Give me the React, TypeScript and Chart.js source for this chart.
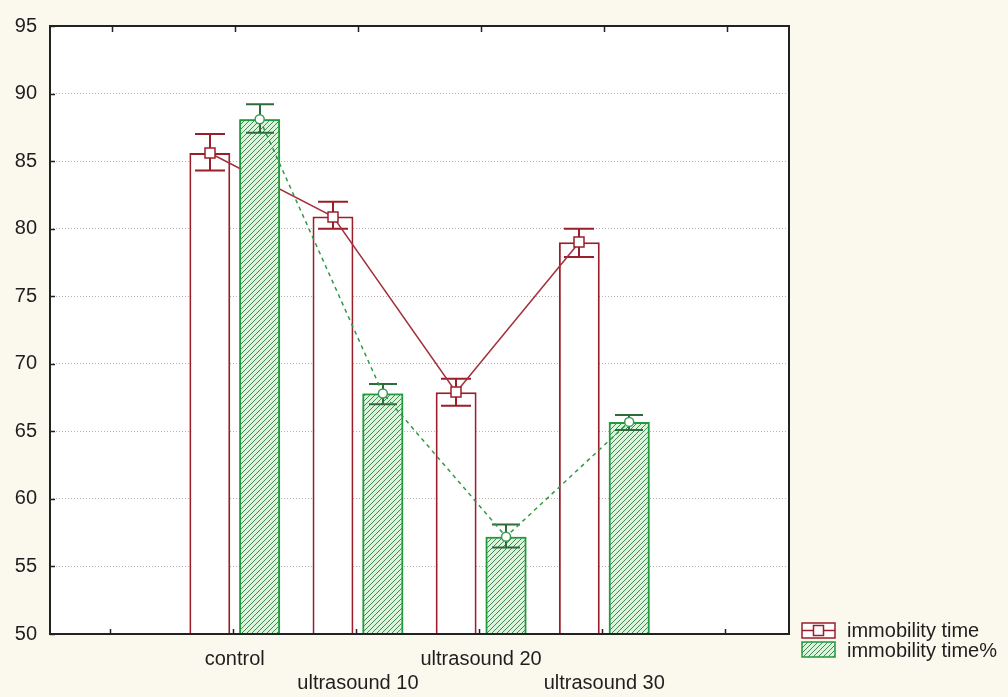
import React, { useEffect, useRef } from 'react';
import { Chart, registerables } from 'chart.js';

Chart.register(...registerables);

// ---- data ----
const categories: (string | string[])[] = ['', 'control', ['', 'ultrasound 10'], 'ultrasound 20', ['', 'ultrasound 30'], ''];
const seriesNames = ['immobility time', 'immobility time%'];
const timeValues: (number | null)[] = [null, 85.6, 80.9, 67.9, 79.0, null];
const timeLow: (number | null)[] = [null, 84.3, 80.0, 66.9, 77.9, null];
const timeHigh: (number | null)[] = [null, 87.0, 82.0, 68.9, 80.0, null];
const pctValues: (number | null)[] = [null, 88.1, 67.8, 57.2, 65.7, null];
const pctLow: (number | null)[] = [null, 87.1, 67.0, 56.4, 65.1, null];
const pctHigh: (number | null)[] = [null, 89.2, 68.5, 58.1, 66.2, null];
const yMin = 50;
const yMax = 95;
const yStep = 5;

// ---- styles ----
const CAT_PCT = 0.81;
const BAR_PCT = 0.82;
const RED = '#9a1f2b';
const RED_LINE = '#a3303c';
const GREEN = '#1f9a3c';
const GREEN_DARK = '#2d6b3c';
const GREEN_LINE = '#2f9a45';
const TEXT = '#1e1e1e';
const FONT = '"Liberation Sans", Arial, sans-serif';
const FRAME = '#222222';

function makeHatch(): CanvasPattern | string {
  const c = document.createElement('canvas');
  const s = 5;
  c.width = s;
  c.height = s;
  const g = c.getContext('2d');
  if (!g) return '#cfeccf';
  g.fillStyle = '#ddf3dd';
  g.fillRect(0, 0, s, s);
  g.strokeStyle = '#3d8c4e';
  g.lineWidth = 1;
  g.beginPath();
  g.moveTo(0, s);
  g.lineTo(s, 0);
  g.moveTo(-1, 1);
  g.lineTo(1, -1);
  g.moveTo(s - 1, s + 1);
  g.lineTo(s + 1, s - 1);
  g.stroke();
  return g.createPattern(c, 'repeat') || '#cfeccf';
}

function seriesPoints(chart: any, dsIndex: number, values: (number | null)[]) {
  const meta = chart.getDatasetMeta(dsIndex);
  const y = chart.scales.y;
  const pts: { x: number; y: number }[] = [];
  meta.data.forEach((el: any, j: number) => {
    const v = values[j];
    if (v != null) pts.push({ x: el.x, y: y.getPixelForValue(v) });
  });
  return pts;
}

function drawErrorBars(chart: any, dsIndex: number, lows: (number | null)[], highs: (number | null)[], color: string, cap: number) {
  const { ctx, scales } = chart;
  const y = scales.y;
  const meta = chart.getDatasetMeta(dsIndex);
  ctx.save();
  ctx.strokeStyle = color;
  ctx.lineWidth = 2;
  meta.data.forEach((el: any, j: number) => {
    const lo = lows[j];
    const hi = highs[j];
    if (lo == null || hi == null) return;
    const x = Math.round(el.x);
    const yl = y.getPixelForValue(lo);
    const yh = y.getPixelForValue(hi);
    ctx.beginPath();
    ctx.moveTo(x, yl);
    ctx.lineTo(x, yh);
    ctx.moveTo(x - cap / 2, yl);
    ctx.lineTo(x + cap / 2, yl);
    ctx.moveTo(x - cap / 2, yh);
    ctx.lineTo(x + cap / 2, yh);
    ctx.stroke();
  });
  ctx.restore();
}

function drawMeanLine(chart: any, dsIndex: number, values: (number | null)[], color: string, dash: number[], marker: 'rect' | 'circle', markerColor: string) {
  const { ctx } = chart;
  const pts = seriesPoints(chart, dsIndex, values);
  ctx.save();
  ctx.strokeStyle = color;
  ctx.lineWidth = 1.5;
  ctx.setLineDash(dash);
  ctx.beginPath();
  pts.forEach((p, i) => (i === 0 ? ctx.moveTo(p.x, p.y) : ctx.lineTo(p.x, p.y)));
  ctx.stroke();
  ctx.setLineDash([]);
  ctx.fillStyle = '#ffffff';
  ctx.strokeStyle = markerColor;
  pts.forEach((p) => {
    ctx.beginPath();
    if (marker === 'rect') {
      ctx.rect(Math.round(p.x) - 5, Math.round(p.y) - 5, 10, 10);
    } else {
      ctx.arc(p.x, p.y, 4.5, 0, Math.PI * 2);
    }
    ctx.fill();
    ctx.stroke();
  });
  ctx.restore();
}

const framePlugin = {
  id: 'statFrame',
  beforeDraw(chart: any) {
    const { ctx, chartArea: a } = chart;
    ctx.save();
    ctx.fillStyle = '#ffffff';
    ctx.fillRect(a.left, a.top, a.right - a.left, a.bottom - a.top);
    ctx.restore();
  },
  afterDatasetsDraw(chart: any) {
    const { ctx, chartArea: a, scales } = chart;
    // red series: error bars, mean line, markers
    drawErrorBars(chart, 0, timeLow, timeHigh, RED, 30);
    drawMeanLine(chart, 0, timeValues, RED_LINE, [], 'rect', RED);
    // green bars again, on top of the red line (clipped to the plot area)
    ctx.save();
    ctx.beginPath();
    ctx.rect(a.left, a.top, a.right - a.left, a.bottom - a.top);
    ctx.clip();
    chart.getDatasetMeta(1).data.forEach((el: any) => el.draw(ctx, a));
    ctx.restore();
    drawErrorBars(chart, 1, pctLow, pctHigh, GREEN_DARK, 28);
    drawMeanLine(chart, 1, pctValues, GREEN_LINE, [4, 4], 'circle', '#3a9a50');

    // frame and inward ticks
    ctx.save();
    ctx.strokeStyle = FRAME;
    ctx.lineWidth = 2;
    ctx.strokeRect(a.left, a.top, a.right - a.left, a.bottom - a.top);
    ctx.lineWidth = 1.5;
    ctx.beginPath();
    categories.forEach((_, i) => {
      const x = Math.round(scales.x.getPixelForTick(i)) + 0.5;
      ctx.moveTo(x, a.top);
      ctx.lineTo(x, a.top + 6);
      ctx.moveTo(x - 2, a.bottom);
      ctx.lineTo(x - 2, a.bottom - 5);
    });
    for (let v = yMin; v <= yMax; v += yStep) {
      const yy = Math.round(scales.y.getPixelForValue(v)) + 0.5;
      ctx.moveTo(a.left, yy);
      ctx.lineTo(a.left + 5, yy);
    }
    ctx.stroke();
    ctx.restore();
  },
  afterDraw(chart: any, _args: any, opts: any) {
    const { ctx, chartArea: a } = chart;
    const pattern = opts.pattern;
    const ix = a.right + 13;
    const iw = 33;
    const ih = 15;
    ctx.save();
    // red item
    const ry = a.bottom - 11;
    ctx.strokeStyle = RED;
    ctx.lineWidth = 1.5;
    ctx.fillStyle = '#ffffff';
    ctx.fillRect(ix, ry, iw, ih);
    ctx.strokeRect(ix, ry, iw, ih);
    ctx.beginPath();
    ctx.moveTo(ix, ry + ih / 2);
    ctx.lineTo(ix + iw, ry + ih / 2);
    ctx.stroke();
    ctx.fillRect(ix + iw / 2 - 5, ry + ih / 2 - 5, 10, 10);
    ctx.strokeRect(ix + iw / 2 - 5, ry + ih / 2 - 5, 10, 10);
    // green item
    const gy = a.bottom + 8;
    ctx.fillStyle = pattern;
    ctx.fillRect(ix, gy, iw, ih);
    ctx.strokeStyle = GREEN;
    ctx.strokeRect(ix, gy, iw, ih);
    // text
    ctx.fillStyle = TEXT;
    ctx.font = `20px ${FONT}`;
    ctx.textBaseline = 'middle';
    ctx.textAlign = 'left';
    ctx.fillText(seriesNames[0], ix + 45, ry + ih / 2 + 1);
    ctx.fillText(seriesNames[1], ix + 45, gy + ih / 2 + 2);
    ctx.restore();
  },
};

export default function App() {
  const ref = useRef<HTMLCanvasElement | null>(null);

  useEffect(() => {
    if (!ref.current) return;
    const pattern = makeHatch();
    const chart = new Chart(ref.current, {
      type: 'bar',
      data: {
        labels: categories as any,
        datasets: [
          {
            label: seriesNames[0],
            data: timeValues as any,
            backgroundColor: '#ffffff',
            borderColor: RED,
            borderWidth: 2,
            categoryPercentage: CAT_PCT,
            barPercentage: BAR_PCT,
            order: 0,
          },
          {
            label: seriesNames[1],
            data: pctValues as any,
            backgroundColor: pattern as any,
            borderColor: GREEN,
            borderWidth: 2,
            categoryPercentage: CAT_PCT,
            barPercentage: BAR_PCT,
            order: 1,
          },
        ],
      },
      options: {
        animation: false,
        responsive: false,
        devicePixelRatio: 1,
        layout: { padding: { top: 26, right: 219, left: 0, bottom: 0 } },
        plugins: {
          legend: { display: false },
          tooltip: { enabled: false },
          statFrame: { pattern },
        } as any,
        scales: {
          x: {
            type: 'category',
            offset: true,
            grid: { display: false, drawTicks: false },
            border: { display: false },
            ticks: {
              color: TEXT,
              font: { size: 20, family: FONT, lineHeight: 1.2 },
              padding: 13,
              maxRotation: 0,
              autoSkip: false,
            },
            afterFit: (s: any) => {
              s.height = 63;
            },
          },
          y: {
            type: 'linear',
            min: yMin,
            max: yMax,
            grid: {
              drawTicks: false,
              color: (c: any) => (c.tick && (c.tick.value === yMin || c.tick.value === yMax) ? 'rgba(0,0,0,0)' : '#b5b5b5'),
              lineWidth: 1,
            },
            border: { display: false, dash: [1, 2] },
            ticks: {
              stepSize: yStep,
              color: TEXT,
              font: { size: 20, family: FONT },
              padding: 13,
            },
            afterFit: (s: any) => {
              s.width = 50;
            },
          },
        } as any,
      },
      plugins: [framePlugin as any],
    });
    return () => chart.destroy();
  }, []);

  return (
    <div style={{ position: 'fixed', left: 0, top: 0, width: 1008, height: 697, background: '#fbf8ee' }}>
      <canvas ref={ref} width={1008} height={697} style={{ display: 'block' }} />
    </div>
  );
}
